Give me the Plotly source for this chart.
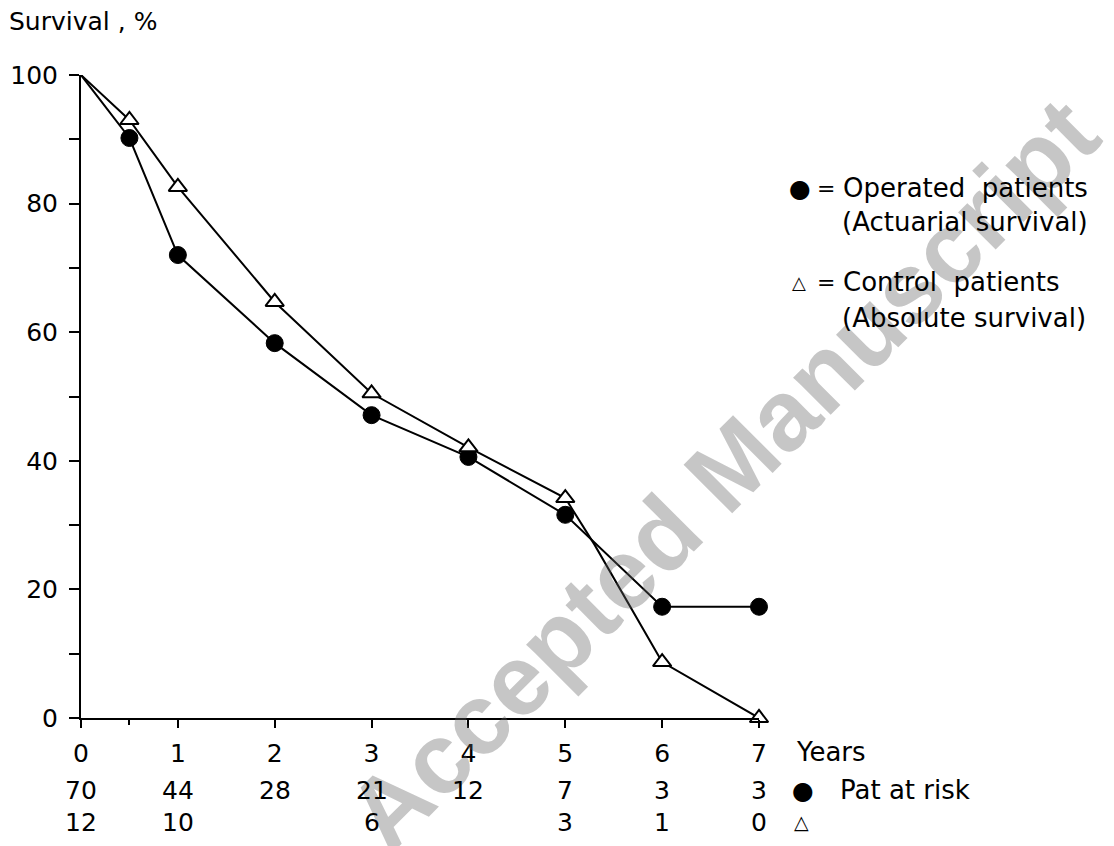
import plotly.graph_objects as go

# ---- data ----
years_op = [0, 0.5, 1, 2, 3, 4, 5, 6, 7]
surv_op = [100, 90.2, 72, 58.3, 47.1, 40.6, 31.6, 17.3, 17.3]
marker_op = [0, 1, 1, 1, 1, 1, 1, 1, 1]

years_ctrl = [0, 0.5, 1, 2, 3, 4, 5, 5.3, 6, 7]
surv_ctrl = [100, 93, 82.6, 64.7, 50.5, 42.1, 34.2, 27, 8.7, 0]
marker_ctrl = [0, 1, 1, 1, 1, 1, 1, 0, 1, 1]

risk_years = [0, 1, 2, 3, 4, 5, 6, 7]
risk_op = ["70", "44", "28", "21", "12", "7", "3", "3"]
risk_ctrl = ["12", "10", "", "6", "", "3", "1", "0"]

x_ticks = [0, 1, 2, 3, 4, 5, 6, 7]
y_ticks = [0, 20, 40, 60, 80, 100]

# ---- layout geometry (pixels) ----
W, H = 1114, 846
L, R, T, B = 81, 355, 75, 128
PW, PH = W - L - R, H - T - B


def px(x):
    return (x - L) / PW


def py(y):
    return (H - B - y) / PH


FONT = "DejaVu Sans"
FS = 25
FT = 26

fig = go.Figure()

fig.add_trace(go.Scatter(
    x=years_op, y=surv_op, mode="lines+markers",
    line=dict(color="#000000", width=2),
    marker=dict(symbol="circle", size=[17 * m for m in marker_op], color="#000000",
                opacity=1, line=dict(color="#000000", width=1)),
    opacity=1, cliponaxis=False, showlegend=False,
))
fig.add_trace(go.Scatter(
    x=years_ctrl, y=surv_ctrl, mode="lines+markers",
    line=dict(color="#000000", width=2),
    marker=dict(symbol="triangle-up", size=[16 * m for m in marker_ctrl], color="white",
                opacity=1, line=dict(color="#000000", width=2)),
    opacity=1, cliponaxis=False, showlegend=False,
))

annotations = []

# watermark
annotations.append(dict(
    text="Accepted Manuscript", xref="paper", yref="paper",
    x=px(722), y=py(474), showarrow=False, textangle=-45,
    font=dict(family="Liberation Sans", size=100, color="rgba(96,96,96,0.36)", weight="bold"),
    xanchor="center", yanchor="middle",
))


def txt(text, x, y, xanchor="left", size=FT, xref="paper"):
    annotations.append(dict(text=text, xref=xref, yref="paper",
                            x=x if xref != "paper" else px(x), y=py(y),
                            xanchor=xanchor, yanchor="middle", showarrow=False,
                            font=dict(family=FONT, size=size, color="black")))


# y axis title
txt("Survival , %", 7, 22, size=FS)

# Years label
txt("Years", 794, 752)

# patients at risk rows
for xv, t in zip(risk_years, risk_op):
    txt(t, xv, 790, xanchor="center", size=FS, xref="x")
for xv, t in zip(risk_years, risk_ctrl):
    if t:
        txt(t, xv, 822, xanchor="center", size=FS, xref="x")
txt("●", 803, 790, xanchor="center", size=FS)
txt("Pat at risk", 838, 790)
txt("△", 801, 822, xanchor="center", size=FS - 6)

# legend
txt("●", 800, 188, xanchor="center", size=FS)
txt("=", 826, 188, xanchor="center", size=FT - 4)
txt("Operated  patients", 841, 188)
txt("(Actuarial survival)", 840, 222)
txt("△", 799, 282, xanchor="center", size=FS - 7)
txt("=", 826, 282, xanchor="center", size=FT - 4)
txt("Control  patients", 841, 282)
txt("(Absolute survival)", 840, 318)

fig.update_layout(
    width=W, height=H,
    margin=dict(l=L, r=R, t=T, b=B, autoexpand=False),
    paper_bgcolor="white", plot_bgcolor="white",
    annotations=annotations,
    font=dict(family=FONT, size=FS, color="black"),
    xaxis=dict(range=[0, 7], tickvals=x_ticks, ticktext=[str(v) for v in x_ticks],
               showline=True, linecolor="black", linewidth=2,
               ticks="outside", ticklen=8, tickwidth=2, tickcolor="black",
               showgrid=False, zeroline=False, ticklabelstandoff=4,
               minor=dict(tickvals=[0.5], ticks="outside", ticklen=5, tickwidth=2, tickcolor="black"),
               tickfont=dict(family=FONT, size=FS, color="black")),
    yaxis=dict(range=[0, 100], tickvals=y_ticks, ticktext=[str(v) for v in y_ticks],
               showline=True, linecolor="black", linewidth=2,
               ticks="outside", ticklen=10, tickwidth=2, tickcolor="black",
               showgrid=False, zeroline=False, ticklabelstandoff=6,
               minor=dict(dtick=10, ticks="outside", ticklen=10, tickwidth=2, tickcolor="black"),
               tickfont=dict(family=FONT, size=FS, color="black")),
)

fig.write_html("out.html")
